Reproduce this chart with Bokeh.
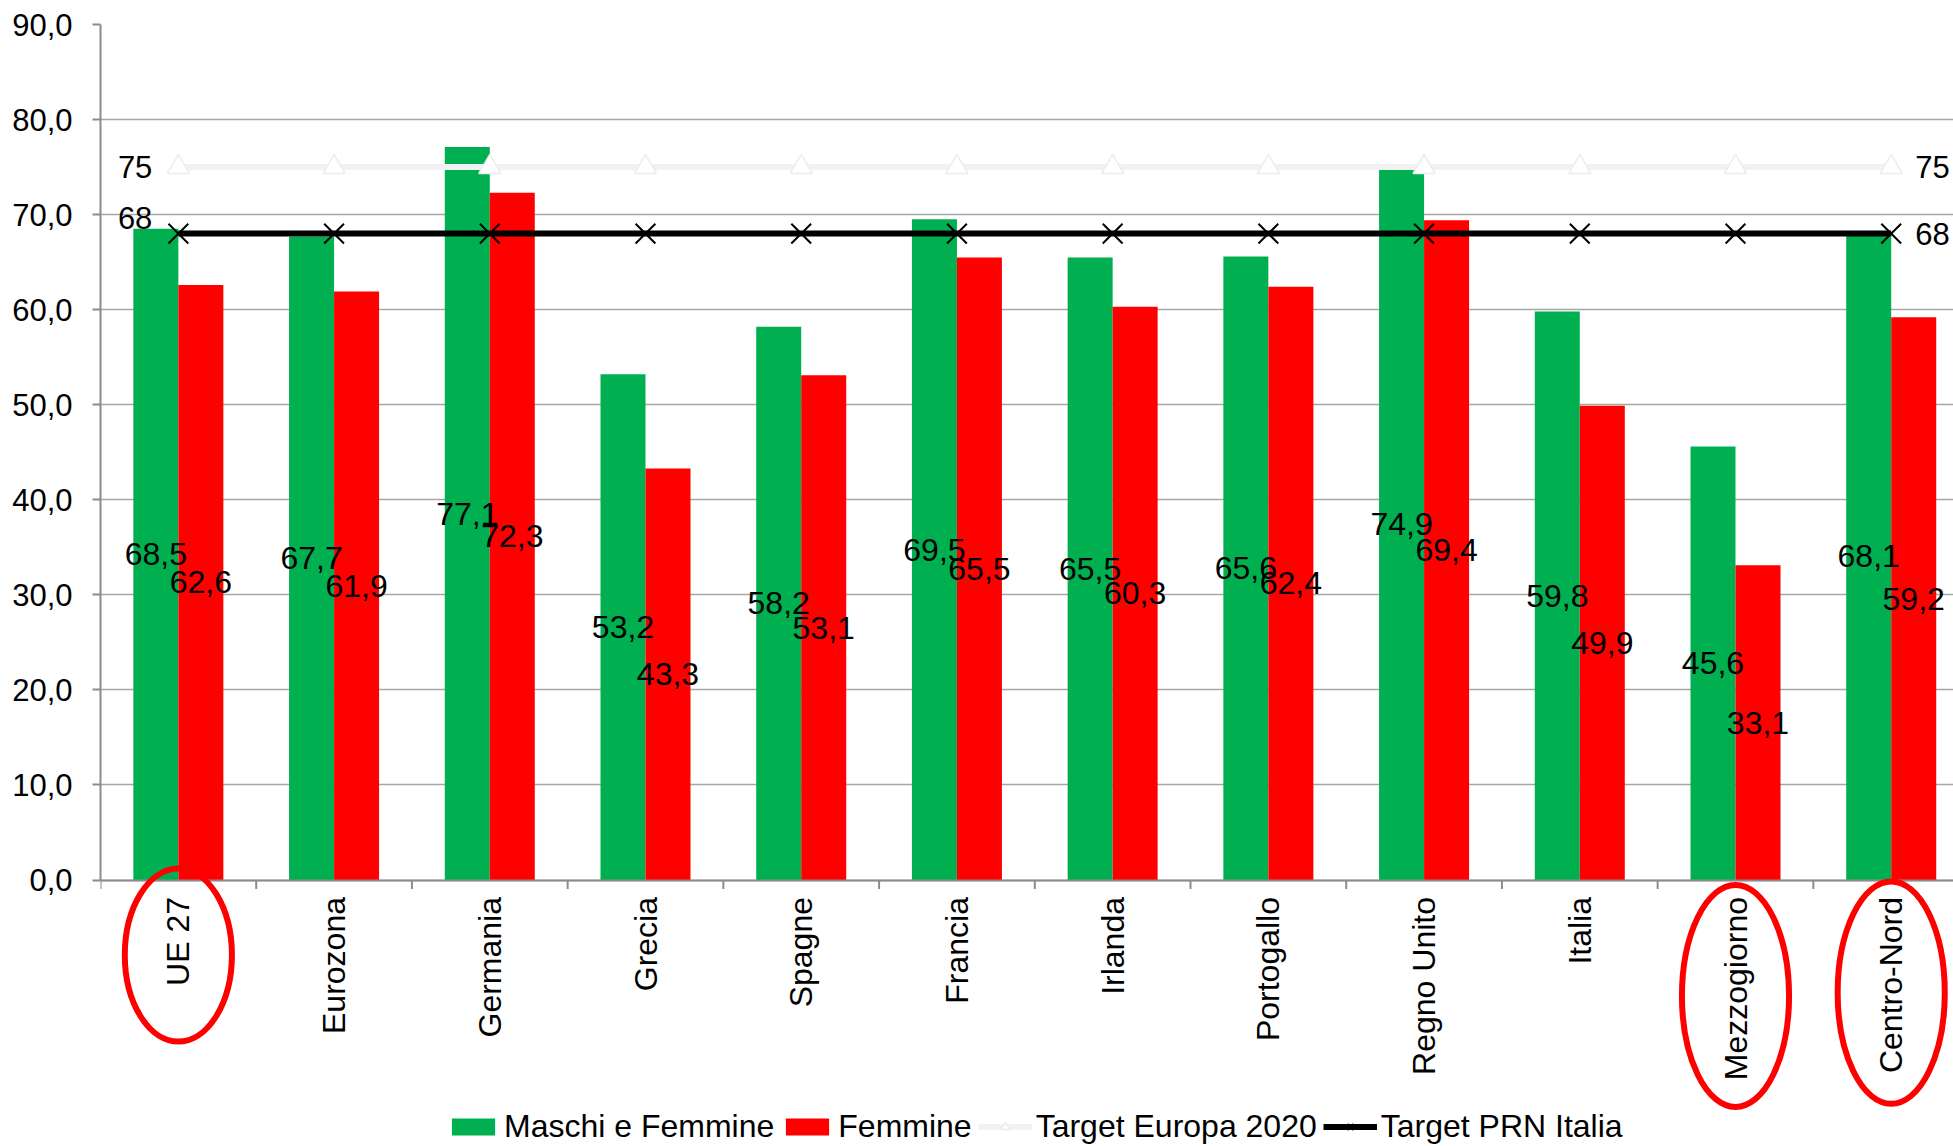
import math
from bokeh.plotting import figure
from bokeh.models import (Range1d, FixedTicker, Legend, LegendItem, ColumnDataSource)
from bokeh.core.properties import value
from bokeh.embed import file_html
from bokeh.resources import INLINE

# ---------------- data ----------------
categories = ["UE 27", "Eurozona", "Germania", "Grecia", "Spagne", "Francia",
              "Irlanda", "Portogallo", "Regno Unito", "Italia", "Mezzogiorno", "Centro-Nord"]
maschi_femmine = [68.5, 67.7, 77.1, 53.2, 58.2, 69.5, 65.5, 65.6, 74.9, 59.8, 45.6, 68.1]
femmine = [62.6, 61.9, 72.3, 43.3, 53.1, 65.5, 60.3, 62.4, 69.4, 49.9, 33.1, 59.2]
target_europa_2020 = [75] * len(categories)
target_prn_italia = [68] * len(categories)
y_ticks = [0, 10, 20, 30, 40, 50, 60, 70, 80, 90]
highlighted = ["UE 27", "Mezzogiorno", "Centro-Nord"]

FONT = "Liberation Sans"
GREEN = "#00B050"
RED = "#FF0000"
AXIS_GREY = "#8c8c8c"


def fmt(v):
    return f"{v:.1f}".replace(".", ",")


n = len(categories)
centers = [i + 0.5 for i in range(n)]
bw = 0.289

src = ColumnDataSource(dict(
    xc=centers,
    xg=[c - bw / 2 for c in centers],
    xr=[c + bw / 2 for c in centers],
    mf=maschi_femmine,
    f=femmine,
    mf_half=[v / 2 for v in maschi_femmine],
    f_half=[v / 2 for v in femmine],
    mf_lbl=[fmt(v) for v in maschi_femmine],
    f_lbl=[fmt(v) for v in femmine],
    eu=target_europa_2020,
    prn=target_prn_italia,
    cat=categories,
    zero=[0] * n,
))

# frame spans from the top gridline down to the bottom of the page, so the
# category labels, the ellipses and the legend can be drawn inside it
px_per_unit = (879.5 - 24) / 90.0
y_bottom = -(1146 - 879.5) / px_per_unit
p = figure(width=1953, height=1146, x_range=Range1d(0, 11.9), y_range=Range1d(y_bottom, 90),
           output_backend="svg", toolbar_location=None,
           min_border_left=100, min_border_right=0, min_border_top=24, min_border_bottom=0)
p.outline_line_color = None
p.background_fill_color = "white"
p.border_fill_color = "white"
p.xaxis.visible = False

# grid
p.xgrid.grid_line_color = None
p.ygrid.grid_line_color = "#a6a6a6"
p.ygrid.grid_line_width = 1.5

# y axis
p.yaxis.ticker = FixedTicker(ticks=y_ticks)
p.yaxis.bounds = (0, 90)
p.yaxis.major_label_overrides = {t: fmt(t) for t in y_ticks}
p.yaxis.major_label_text_font = FONT
p.yaxis.major_label_text_font_size = "31px"
p.yaxis.major_label_text_color = "black"
p.yaxis.major_label_standoff = 20
p.yaxis.axis_line_color = AXIS_GREY
p.yaxis.axis_line_width = 2
p.yaxis.major_tick_line_color = AXIS_GREY
p.yaxis.major_tick_line_width = 2
p.yaxis.major_tick_out = 8
p.yaxis.major_tick_in = 0
p.yaxis.minor_tick_line_color = None

# bars
r_mf = p.vbar(x="xg", top="mf", bottom=0, width=bw, source=src, fill_color=GREEN, line_color=None)
r_f = p.vbar(x="xr", top="f", bottom=0, width=bw, source=src, fill_color=RED, line_color=None)

# category axis (drawn with glyphs)
p.hspan(y=[0], line_color=AXIS_GREY, line_width=2)
tick_len = 9 / px_per_unit
p.segment(x0=list(range(n)), y0=[0] * n, x1=list(range(n)), y1=[-tick_len] * n,
          line_color=AXIS_GREY, line_width=2)
p.text(x="xc", y="zero", text="cat", source=src, angle=math.pi / 2, y_offset=17,
       text_font=value(FONT), text_font_size="32px", text_align="right",
       text_baseline="middle", text_color="black")

# target lines
r_eu_line = p.line(x="xc", y="eu", source=src, line_color="#f2f2f2", line_width=6)
r_eu_pts = p.scatter(x="xc", y="eu", source=src, marker="triangle", size=22,
                     fill_color="white", line_color="#ececec", line_width=1.5)
r_prn_line = p.line(x="xc", y="prn", source=src, line_color="black", line_width=6)
r_prn_pts = p.scatter(x="xc", y="prn", source=src, marker="x", size=28,
                      line_color="black", line_width=2)

# value labels (centred in bars, half height)
p.text(x="xg", y="mf_half", text="mf_lbl", source=src, text_font=value(FONT),
       text_font_size="32px", text_align="center", text_baseline="middle", text_color="black")
p.text(x="xr", y="f_half", text="f_lbl", source=src, text_font=value(FONT),
       text_font_size="32px", text_align="center", text_baseline="middle", text_color="black")

# target end labels
end_src_left = ColumnDataSource(dict(x=[centers[0], centers[0]],
                                     y=[target_europa_2020[0], target_prn_italia[0]],
                                     t=[str(target_europa_2020[0]), str(target_prn_italia[0])],
                                     yo=[0, -16]))
end_src_right = ColumnDataSource(dict(x=[centers[-1], centers[-1]],
                                      y=[target_europa_2020[-1], target_prn_italia[-1]],
                                      t=[str(target_europa_2020[-1]), str(target_prn_italia[-1])]))
p.text(x="x", y="y", text="t", source=end_src_left, x_offset=-26, y_offset="yo",
       text_font=value(FONT), text_font_size="31px", text_align="right",
       text_baseline="middle", text_color="black")
p.text(x="x", y="y", text="t", source=end_src_right, x_offset=24,
       text_font=value(FONT), text_font_size="31px", text_align="left",
       text_baseline="middle", text_color="black")

# red ellipses round highlighted category labels
ell_geom = {"UE 27": (-7.9, 18.2), "Mezzogiorno": (-12.2, 23.4), "Centro-Nord": (-11.85, 23.4)}
ell_x, ell_y, ell_h = [], [], []
for name in highlighted:
    i = categories.index(name)
    cy, h = ell_geom[name]
    ell_x.append(centers[i])
    ell_y.append(cy)
    ell_h.append(h)
p.ellipse(x=ell_x, y=ell_y, width=0.688, height=ell_h, fill_color=None,
          line_color=RED, line_width=6)

# legend
legend = Legend(items=[
    LegendItem(label="Maschi e Femmine", renderers=[r_mf]),
    LegendItem(label="Femmine", renderers=[r_f]),
    LegendItem(label="Target Europa 2020", renderers=[r_eu_line, r_eu_pts]),
    LegendItem(label="Target PRN Italia", renderers=[r_prn_line, r_prn_pts]),
], orientation="horizontal", location=(346, 1))
legend.label_text_font = FONT
legend.label_text_font_size = "32px"
legend.label_text_color = "black"
legend.glyph_width = 54
legend.glyph_height = 21
legend.label_standoff = 4
legend.spacing = 6
legend.padding = 0
legend.margin = 0
legend.border_line_color = None
legend.background_fill_alpha = 0
p.add_layout(legend, "center")

open("out.html", "w").write(file_html(p, INLINE))
